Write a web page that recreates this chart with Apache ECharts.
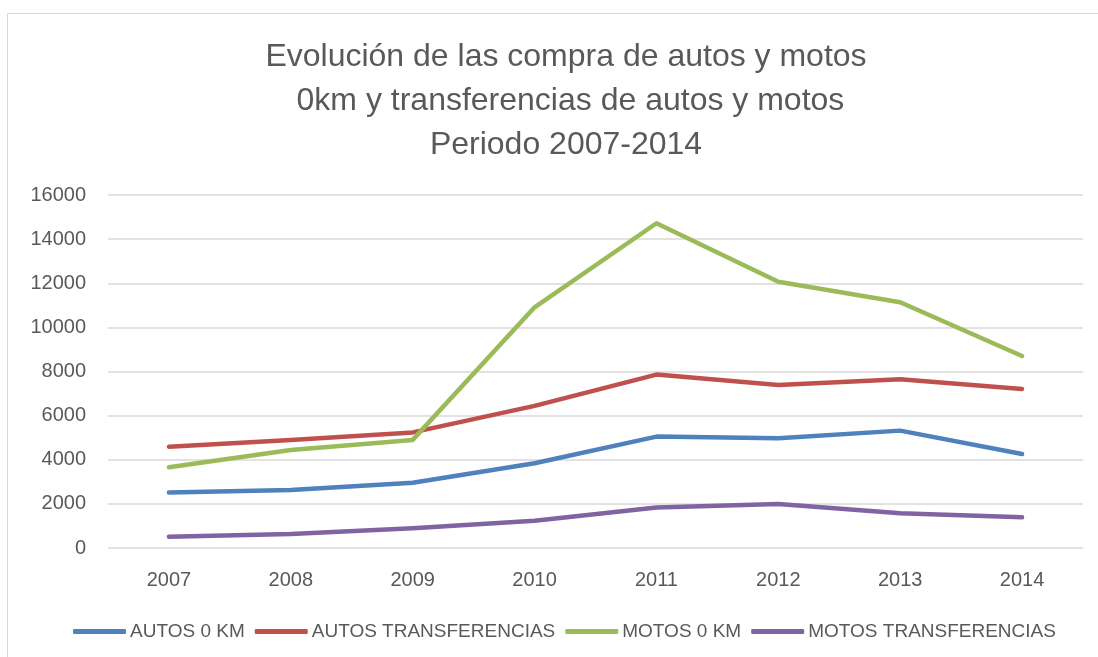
<!DOCTYPE html>
<html>
<head>
<meta charset="utf-8">
<script src="https://cdn.jsdelivr.net/npm/echarts@6/dist/echarts.min.js"></script>
<style>
  html, body { margin: 0; padding: 0; background: #fff; }
  #frame { position: absolute; left: 7px; top: 13px; width: 1100px; height: 660px; border: 1px solid #d9d9d9; box-sizing: border-box; }
  #main { position: absolute; left: 0; top: 0; width: 1098px; height: 657px; }
</style>
</head>
<body>
<div id="frame"></div>
<div id="main"></div>
<script>
'use strict';

var years = ['2007', '2008', '2009', '2010', '2011', '2012', '2013', '2014'];
var autos0km = [2520, 2630, 2960, 3840, 5050, 4970, 5320, 4260];
var autosTransf = [4590, 4900, 5240, 6440, 7860, 7390, 7650, 7210];
var motos0km = [3660, 4440, 4900, 10910, 14720, 12070, 11140, 8700];
var motosTransf = [510, 630, 890, 1240, 1840, 1990, 1570, 1390];
var yTicks = [0, 2000, 4000, 6000, 8000, 10000, 12000, 14000, 16000];

var font = '"Liberation Sans", Arial, sans-serif';

function lineSeries(name, data, color) {
    return {
        name: name,
        type: 'line',
        data: data,
        symbol: 'none',
        lineStyle: { width: 4.5, color: color, cap: 'round', join: 'round' },
        itemStyle: { color: color }
    };
}

var myChart = echarts.init(document.getElementById('main'));
var option = {
    animation: false,
    title: {
        text: 'Evolución de las compra de autos y motos\n 0km y transferencias de autos y motos\nPeriodo 2007-2014',
        left: 561,
        top: 30,
        textAlign: 'center',
        textStyle: {
            fontFamily: font,
            fontSize: 32,
            fontWeight: 'normal',
            color: '#595959',
            lineHeight: 44
        }
    },
    grid: { left: 108, right: 15, top: 195, bottom: 109, containLabel: false },
    legend: {
        top: 617,
        left: 68,
        itemWidth: 53,
        itemHeight: 5,
        itemGap: 10,
        icon: 'roundRect',
        textStyle: { fontFamily: font, fontSize: 19, color: '#595959', padding: [0, 0, 0, -1] },
        data: ['AUTOS 0 KM', 'AUTOS TRANSFERENCIAS', 'MOTOS 0 KM', 'MOTOS TRANSFERENCIAS']
    },
    xAxis: {
        type: 'category',
        data: years,
        boundaryGap: true,
        axisLine: { show: false },
        axisTick: { show: false },
        axisLabel: { fontFamily: font, fontSize: 20, color: '#595959', margin: 22 }
    },
    yAxis: {
        type: 'value',
        min: yTicks[0],
        max: yTicks[yTicks.length - 1],
        interval: 2000,
        axisLine: { show: false },
        axisTick: { show: false },
        splitLine: { lineStyle: { color: '#d9d9d9', width: 1.5 } },
        axisLabel: {
            fontFamily: font,
            fontSize: 20,
            color: '#595959',
            margin: 22,
            formatter: function(value) {
                return String(value);
            }
        }
    },
    series: [
        lineSeries('AUTOS 0 KM', autos0km, '#4f81bd'),
        lineSeries('AUTOS TRANSFERENCIAS', autosTransf, '#c0504d'),
        lineSeries('MOTOS 0 KM', motos0km, '#9bbb59'),
        lineSeries('MOTOS TRANSFERENCIAS', motosTransf, '#8064a2')
    ]
};
myChart.setOption(option);
</script>
</body>
</html>
